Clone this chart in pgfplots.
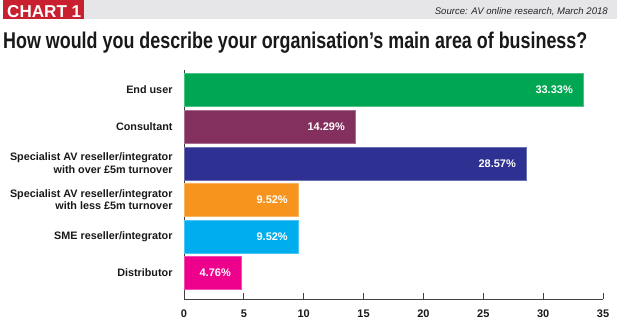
\documentclass[border=0pt]{standalone}
\usepackage{pgfplots}
\pgfplotsset{compat=1.18}
\usepackage{fontspec}
\setmainfont{Liberation Sans}
\definecolor{cgreen}{HTML}{00A651}
\definecolor{cmaroon}{HTML}{84305F}
\definecolor{cnavy}{HTML}{2E3192}
\definecolor{corange}{HTML}{F7941D}
\definecolor{ccyan}{HTML}{00AEEF}
\definecolor{cmagenta}{HTML}{EC008C}
\definecolor{chartred}{HTML}{C8202F}
\definecolor{headgrey}{HTML}{E6E6E8}
\begin{document}
\begin{tikzpicture}[x=1pt,y=1pt]
\useasboundingbox (0,0) rectangle (620,-330);
\fill[white] (0,0) rectangle (620,-330);
\fill[headgrey] (84,0) rectangle (617,-19);
\fill[chartred] (3,0) rectangle (84,-19);
\node[anchor=base west, inner sep=0, text=white] at (7,-17) {\resizebox{74pt}{12pt}{\bfseries CHART 1}};
\node[anchor=base east, inner sep=0, text=black!85] at (608,-14) {\resizebox{173pt}{!}{\itshape Source: AV online research, March 2018}};
\node[anchor=base west, inner sep=0, text=black!90] at (3,-48) {\resizebox{584pt}{16.5pt}{\bfseries How would you describe your organisation’s main area of business?}};
\begin{axis}[
  at={(184pt,-299pt)}, anchor=south west,
  scale only axis, width=419pt, height=229pt,
  xbar, bar width=33pt, bar shift=0pt,
  xmin=0, xmax=35,
  ymin=-0.55, ymax=5.71, y dir=reverse,
  axis x line=bottom, axis y line=left,
  axis line style={-, black!75, line width=0.8pt},
  xtick={0,5,...,35},
  ytick={0,1,2,3,4,5},
  yticklabels={End user, Consultant, {Specialist AV reseller/integrator\\with over £5m turnover}, {Specialist AV reseller/integrator\\with less £5m turnover}, SME reseller/integrator, Distributor},
  yticklabel style={align=right, font=\bfseries\fontsize{10.8}{12.5}\selectfont, text=black!90, xshift=-8pt},
  ytick style={draw=none},
  tick align=inside, major tick length=6pt,
  xtick style={black!75, line width=0.8pt},
  xticklabel style={font=\bfseries\fontsize{11}{12}\selectfont, text=black!90, yshift=-7pt},
  /pgf/number format/assume math mode=true,
  nodes near coords,
  point meta=explicit symbolic,
  every node near coord/.append style={anchor=east, text=white, font=\bfseries\fontsize{11}{12}\selectfont, xshift=-10pt, inner sep=0pt},
  clip=false,
]
\addplot[fill=cgreen, draw=cgreen!70!white] coordinates {(33.33,0) [33.33\%]};
\addplot[fill=cmaroon, draw=cmaroon!70!white] coordinates {(14.29,1) [14.29\%]};
\addplot[fill=cnavy, draw=cnavy!70!white] coordinates {(28.57,2) [28.57\%]};
\addplot[fill=corange, draw=corange!70!white] coordinates {(9.52,3) [9.52\%]};
\addplot[fill=ccyan, draw=ccyan!70!white] coordinates {(9.52,4) [9.52\%]};
\addplot[fill=cmagenta, draw=cmagenta!70!white] coordinates {(4.76,5) [4.76\%]};
\end{axis}
\end{tikzpicture}
\end{document}
